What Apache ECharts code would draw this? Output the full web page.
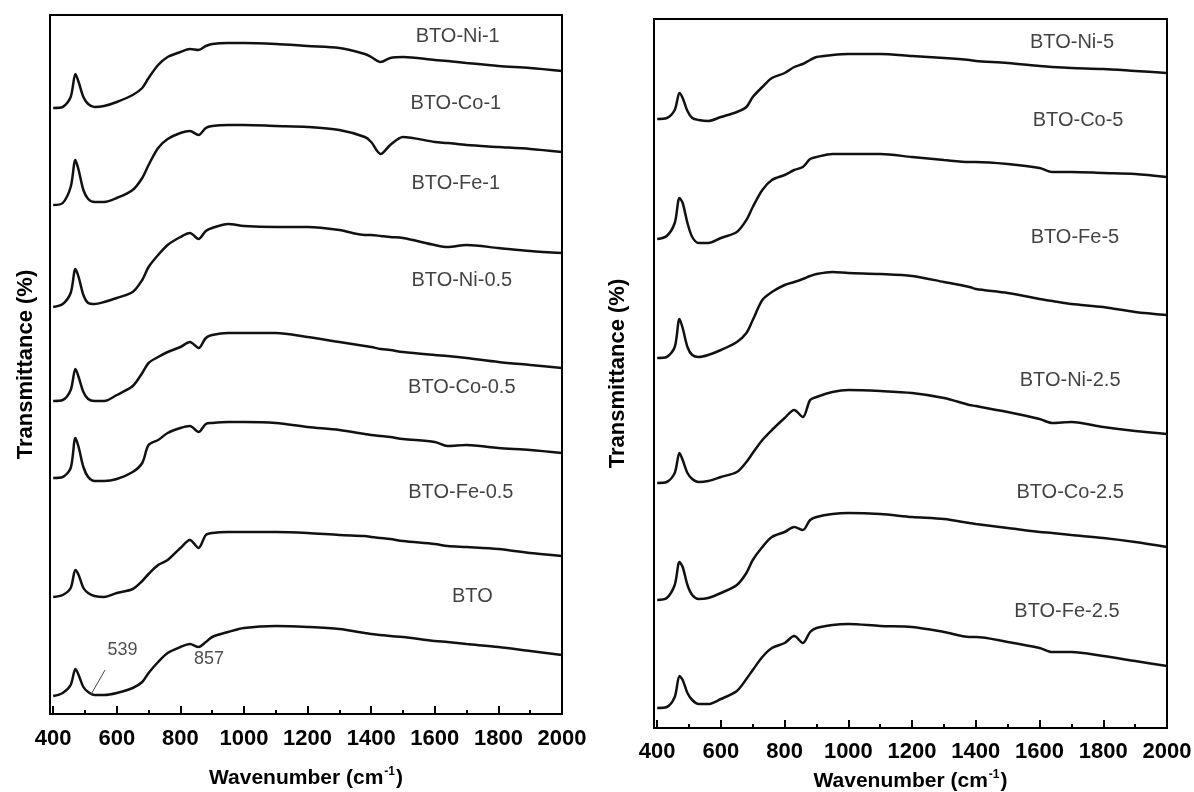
<!DOCTYPE html>
<html><head><meta charset="utf-8">
<script src="https://cdn.jsdelivr.net/npm/echarts@6/dist/echarts.min.js"></script>
<style>html,body{margin:0;padding:0;background:#fff}#c{width:1194px;height:792px}</style>
</head><body><div id="c"></div>
<script>
// ---- data (offset transmittance, arbitrary units) ----
const wnLeft = [400,430,455,470,480,495,510,530,560,600,650,680,700,730,760,800,830,857,880,900,950,1000,1100,1200,1300,1380,1400,1430,1460,1500,1600,1640,1700,1800,1900,2000];
const btoNi1  = [606,607,617,640,632,617,610,607,608,612,619,626,636,649,657,662,665,664,668,670,671,671,670,668,666,660,657,652,656,657,654,653,651,648,646,643];
const btoCo1  = [509,511,527,554,544,524,515,512,512,516,524,536,549,566,575,581,583,579,586,588,589,589,588,587,584,577,572,560,569,577,572,571,569,567,565,562];
const btoFe1  = [407,410,421,445,437,419,411,410,412,416,422,434,447,459,469,477,481,475,483,486,490,488,487,487,484,479,479,478,477,476,469,467,469,466,463,461];
const btoNi05 = [313,314,324,345,337,322,315,313,313,319,328,341,351,357,362,367,372,366,376,379,381,381,381,377,372,368,367,365,364,362,359,358,356,352,349,346];
const btoCo05 = [236,237,246,276,267,247,237,233,233,235,242,251,269,274,281,286,288,282,290,291,292,292,291,287,284,280,279,278,277,275,272,268,269,266,264,261];
const btoFe05 = [117,119,126,144,139,126,121,118,117,121,125,133,140,149,154,166,174,166,179,181,182,182,182,181,179,178,177,176,175,173,170,168,167,165,161,158];
const btoPure = [18,21,29,45,39,27,22,19,19,21,26,32,41,52,61,67,70,67,72,77,82,86,88,87,85,81,80,79,78,77,73,72,70,67,63,59];

const wnRight = [400,430,455,470,480,495,510,530,560,600,650,680,700,730,760,800,830,857,880,900,950,1000,1100,1200,1300,1380,1400,1500,1600,1640,1700,1800,1900,2000];
const btoNi5  = [609,610,618,635,630,617,610,608,607,611,616,621,631,641,650,655,661,664,668,671,673,674,674,672,670,668,667,665,662,661,660,659,657,655];
const btoCo5  = [489,492,505,530,525,505,491,485,485,490,496,508,521,538,548,553,558,561,569,571,574,574,574,571,568,566,566,564,560,556,556,555,554,551];
const btoFe5  = [370,371,381,409,400,381,373,371,373,378,386,395,408,428,436,443,446,449,452,454,456,455,454,452,446,441,439,435,429,427,424,421,416,413];
const btoNi25 = [245,246,255,275,268,255,249,246,247,251,256,266,275,288,298,310,318,311,328,331,336,338,337,335,330,323,322,316,309,305,306,301,297,294];
const btoCo25 = [128,130,143,166,161,143,133,129,130,135,143,155,168,181,191,196,201,198,208,211,214,215,214,211,209,205,204,200,196,195,193,190,186,181];
const btoFe25 = [20,21,31,52,48,35,28,24,24,29,37,49,58,71,80,85,92,85,96,100,103,104,102,101,96,91,91,86,80,76,76,72,67,62];

const namesLeft  = ['BTO-Ni-1','BTO-Co-1','BTO-Fe-1','BTO-Ni-0.5','BTO-Co-0.5','BTO-Fe-0.5','BTO'];
const namesRight = ['BTO-Ni-5','BTO-Co-5','BTO-Fe-5','BTO-Ni-2.5','BTO-Co-2.5','BTO-Fe-2.5'];
const labelWnLeft  = [1672,1666,1666,1685,1685,1682,1718];
const labelValLeft = [678,611,531,434,327,222,118];
const labelWnRight  = [1702,1721,1711,1696,1696,1686];
const labelValRight = [686,608,491,348,236,117];

const majorTicks = [400,600,800,1000,1200,1400,1600,1800,2000];
const minorTicks = [500,700,900,1100,1300,1500,1700,1900];
const peakMarks = [{text:'539', wn:618, val:64}, {text:'857', wn:890, val:55}];
const leaderLine = [[518,19],[563,44]];

// ---- chart ----
const F = '"Liberation Sans", Arial, Helvetica, sans-serif';
const seriesLeft  = [btoNi1, btoCo1, btoFe1, btoNi05, btoCo05, btoFe05, btoPure];
const seriesRight = [btoNi5, btoCo5, btoFe5, btoNi25, btoCo25, btoFe25];

function xAxes(gi, gap, margin) {
  return [{
    gridIndex: gi, type: 'value', min: 390, max: 2000, position: 'bottom',
    axisLine: {show: true, onZero: false, lineStyle: {color: '#000', width: 2}},
    axisTick: {show: true, inside: true, length: 8, customValues: majorTicks, lineStyle: {color: '#000', width: 2}},
    axisLabel: {customValues: majorTicks, formatter: v => String(v), fontSize: 22, fontWeight: 'bold', fontFamily: F, color: '#000', margin: margin},
    splitLine: {show: false},
    name: '{a|Wavenumber (cm}{s|-1}{a|)}', nameLocation: 'middle', nameGap: gap,
    nameTextStyle: {rich: {
      a: {fontSize: 21, fontWeight: 'bold', fontFamily: F, color: '#000', lineHeight: 24},
      s: {fontSize: 12, fontWeight: 'bold', fontFamily: F, color: '#000', lineHeight: 24, verticalAlign: 'top', padding: [0, 1, 10, 1]}
    }}
  }, {
    gridIndex: gi, type: 'value', min: 390, max: 2000, position: 'bottom',
    axisLine: {show: false},
    axisTick: {show: true, inside: true, length: 4, customValues: minorTicks, lineStyle: {color: '#000', width: 2}},
    axisLabel: {show: false}, splitLine: {show: false}
  }];
}
function yAxis(gi, max, gap) {
  return {
    gridIndex: gi, type: 'value', min: 0, max: max,
    axisLine: {show: false}, axisTick: {show: false}, axisLabel: {show: false}, splitLine: {show: false},
    name: 'Transmittance (%)', nameLocation: 'middle', nameRotate: 90, nameGap: gap,
    nameTextStyle: {fontSize: 22, fontWeight: 'bold', fontFamily: F, color: '#000'}
  };
}
function lineSeries(wn, vals, xi, yi, name) {
  return {
    type: 'line', name: name, xAxisIndex: xi, yAxisIndex: yi,
    data: wn.map((w, i) => [w, vals[i]]),
    showSymbol: false, smooth: 0.3, silent: true,
    lineStyle: {color: '#111', width: 2.5}
  };
}
function labelSeries(names, wns, vals, xi, yi) {
  return {
    type: 'scatter', xAxisIndex: xi, yAxisIndex: yi, silent: true,
    symbolSize: 1, itemStyle: {color: 'rgba(0,0,0,0)'},
    data: names.map((n, i) => [wns[i], vals[i], n]),
    label: {show: true, position: 'inside', formatter: p => p.data[2],
      fontSize: 20, fontFamily: F, color: '#111'}
  };
}

const series = [];
seriesLeft.forEach((s, i) => series.push(lineSeries(wnLeft, s, 0, 0, namesLeft[i])));
seriesRight.forEach((s, i) => series.push(lineSeries(wnRight, s, 2, 1, namesRight[i])));
series.push(labelSeries(namesLeft, labelWnLeft, labelValLeft, 0, 0));
series.push(labelSeries(namesRight, labelWnRight, labelValRight, 2, 1));
series.push({
  type: 'scatter', xAxisIndex: 0, yAxisIndex: 0, silent: true,
  symbolSize: 1, itemStyle: {color: 'rgba(0,0,0,0)'},
  data: peakMarks.map(p => [p.wn, p.val, p.text]),
  label: {show: true, position: 'inside', formatter: p => p.data[2], fontSize: 18, fontFamily: F, color: '#222'}
});
series.push({
  type: 'line', xAxisIndex: 0, yAxisIndex: 0, silent: true, showSymbol: false,
  data: leaderLine, lineStyle: {color: '#444', width: 1}
});

const option = {
  backgroundColor: '#fff',
  animation: false,
  grid: [
    {left: 50, top: 15, width: 512, height: 699, show: true, borderColor: '#000', borderWidth: 2, backgroundColor: 'transparent', outerBoundsMode: 'none', containLabel: false},
    {left: 654, top: 19, width: 513, height: 709, show: true, borderColor: '#000', borderWidth: 2, backgroundColor: 'transparent', outerBoundsMode: 'none', containLabel: false}
  ],
  xAxis: [...xAxes(0, 52, 14), ...xAxes(1, 41, 13)],
  yAxis: [yAxis(0, 699, 13), yAxis(1, 709, 25)],
  series: series
};
const chart = echarts.init(document.getElementById('c'));
chart.setOption(option);
</script></body></html>
